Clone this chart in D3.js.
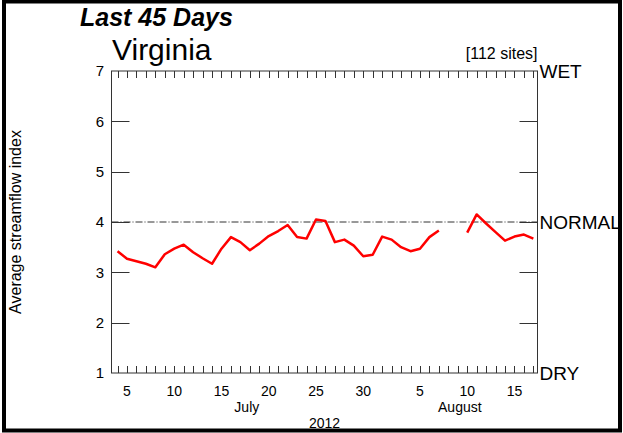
<!DOCTYPE html>
<html>
<head>
<meta charset="utf-8">
<script src="https://cdn.jsdelivr.net/npm/d3@7"></script>
<style>
  body { margin: 0; background: #fff; }
  svg { display: block; font-family: "Liberation Sans", Arial, Helvetica, sans-serif; }
</style>
</head>
<body>
<div id="chart"></div>
<script>
// daily average streamflow index, July 4 .. Aug 17 2012 (null = no data)
var startDay = new Date(2012, 6, 4);
var values = [
    3.42, 3.27, 3.22, 3.17, 3.10, 3.36, 3.47, 3.55, 3.40, 3.28,
    3.17, 3.47, 3.70, 3.60, 3.44, 3.57, 3.72, 3.82, 3.94, 3.70,
    3.67, 4.05, 4.02, 3.60, 3.65, 3.53, 3.32, 3.35, 3.71, 3.65,
    3.50, 3.42, 3.47, 3.70, 3.83, null, null, 3.79, 4.15, 3.97,
    3.80, 3.63, 3.71, 3.75, 3.67
];
var yTicks = [1, 2, 3, 4, 5, 6, 7];
var sideLabels = [{v: 7, t: 'WET'}, {v: 4, t: 'NORMAL'}, {v: 1, t: 'DRY'}];
var months = [
    {name: 'July', from: new Date(2012, 6, 1), to: new Date(2012, 7, 1)},
    {name: 'August', from: new Date(2012, 7, 1), to: new Date(2012, 8, 1)}
];

var data = values.map(function(v, i) {
    return {date: d3.timeDay.offset(startDay, i), value: v};
});

var W = 623, H = 433;
var plot = {left: 111.5, right: 537.5, top: 71, bottom: 373};

var svg = d3.select('#chart').append('svg')
    .attr('width', W)
    .attr('height', H);

// outer frame
svg.append('rect')
    .attr('x', 4).attr('y', 1.5)
    .attr('width', 616).attr('height', 429)
    .attr('fill', 'none')
    .attr('stroke', '#000')
    .attr('stroke-width', 4);

var x = d3.scaleTime()
    .domain([new Date(2012, 6, 3, 8, 40), new Date(2012, 7, 17, 10, 30)])
    .range([plot.left, plot.right]);

var y = d3.scaleLinear()
    .domain([1, 7])
    .range([plot.bottom, plot.top]);

// titles
svg.append('text')
    .attr('x', 80).attr('y', 26)
    .attr('font-size', 25).attr('font-weight', 'bold').attr('font-style', 'italic')
    .text('Last 45 Days');

svg.append('text')
    .attr('x', 112).attr('y', 60)
    .attr('font-size', 30)
    .text('Virginia');

svg.append('text')
    .attr('x', plot.right).attr('y', 59)
    .attr('text-anchor', 'end')
    .attr('font-size', 16)
    .text('[112 sites]');

// normal line
svg.append('line')
    .attr('x1', plot.left).attr('x2', plot.right)
    .attr('y1', y(4)).attr('y2', y(4))
    .attr('stroke', '#333')
    .attr('stroke-width', 1)
    .attr('stroke-dasharray', '7,2,1,2');

// day ticks (inward, top and bottom)
var days = d3.timeDay.range(d3.timeDay.ceil(x.domain()[0]), x.domain()[1]);
svg.append('g')
    .selectAll('line.dt')
    .data(days)
    .enter().append('line')
    .attr('x1', function(d) { return Math.round(x(d)) + 0.5; })
    .attr('x2', function(d) { return Math.round(x(d)) + 0.5; })
    .attr('y1', plot.bottom)
    .attr('y2', plot.bottom - 7)
    .attr('stroke', '#333');
svg.append('g')
    .selectAll('line.dt')
    .data(days)
    .enter().append('line')
    .attr('x1', function(d) { return Math.round(x(d)) + 0.5; })
    .attr('x2', function(d) { return Math.round(x(d)) + 0.5; })
    .attr('y1', plot.top)
    .attr('y2', plot.top + 7)
    .attr('stroke', '#333');

// y ticks (inward, both sides)
var inner = yTicks.filter(function(v) { return v > 1 && v < 7; });
svg.append('g').selectAll('line')
    .data(inner)
    .enter().append('line')
    .attr('x1', plot.left).attr('x2', plot.left + 18)
    .attr('y1', function(d) { return Math.round(y(d)) + 0.5; })
    .attr('y2', function(d) { return Math.round(y(d)) + 0.5; })
    .attr('stroke', '#333');
svg.append('g').selectAll('line')
    .data(inner)
    .enter().append('line')
    .attr('x1', plot.right - 18).attr('x2', plot.right)
    .attr('y1', function(d) { return Math.round(y(d)) + 0.5; })
    .attr('y2', function(d) { return Math.round(y(d)) + 0.5; })
    .attr('stroke', '#333');

// y tick labels
svg.append('g').selectAll('text')
    .data(yTicks)
    .enter().append('text')
    .attr('x', 104)
    .attr('y', function(d) { return y(d); })
    .attr('dy', '0.36em')
    .attr('text-anchor', 'end')
    .attr('font-size', 15)
    .text(function(d) { return d; });

// WET / NORMAL / DRY
svg.append('g').selectAll('text')
    .data(sideLabels)
    .enter().append('text')
    .attr('x', plot.right + 2)
    .attr('y', function(d) { return y(d.v); })
    .attr('dy', '0.36em')
    .attr('font-size', 19)
    .text(function(d) { return d.t; });

// x labels every 5 days
var labelDays = days.filter(function(d) { return d.getDate() % 5 === 0 && d.getDate() < 31; });
svg.append('g').selectAll('text')
    .data(labelDays)
    .enter().append('text')
    .attr('x', function(d) { return x(d); })
    .attr('y', 396)
    .attr('text-anchor', 'middle')
    .attr('font-size', 14)
    .text(function(d) { return d.getDate(); });

// month labels centred on visible part of the month
svg.append('g').selectAll('text')
    .data(months)
    .enter().append('text')
    .attr('x', function(d) {
        var a = Math.max(x(d.from), plot.left), b = Math.min(x(d.to), plot.right);
        return (a + b) / 2;
    })
    .attr('y', 412)
    .attr('text-anchor', 'middle')
    .attr('font-size', 14)
    .text(function(d) { return d.name; });

svg.append('text')
    .attr('x', (plot.left + plot.right) / 2)
    .attr('y', 428)
    .attr('text-anchor', 'middle')
    .attr('font-size', 14)
    .text('2012');

// y axis title
svg.append('text')
    .attr('transform', 'translate(21,' + ((plot.top + plot.bottom) / 2) + ') rotate(-90)')
    .attr('text-anchor', 'middle')
    .attr('font-size', 16)
    .text('Average streamflow index');

// series
var line = d3.line()
    .defined(function(d) { return d.value != null; })
    .x(function(d) { return x(d.date); })
    .y(function(d) { return y(d.value); });

svg.append('path')
    .datum(data)
    .attr('d', line)
    .attr('fill', 'none')
    .attr('stroke', '#ff0000')
    .attr('stroke-width', 2.5)
    .attr('stroke-linejoin', 'round');

// plot frame
svg.append('rect')
    .attr('x', plot.left).attr('y', plot.top)
    .attr('width', plot.right - plot.left)
    .attr('height', plot.bottom - plot.top)
    .attr('fill', 'none')
    .attr('stroke', '#333')
    .attr('stroke-width', 1);
</script>
</body>
</html>
